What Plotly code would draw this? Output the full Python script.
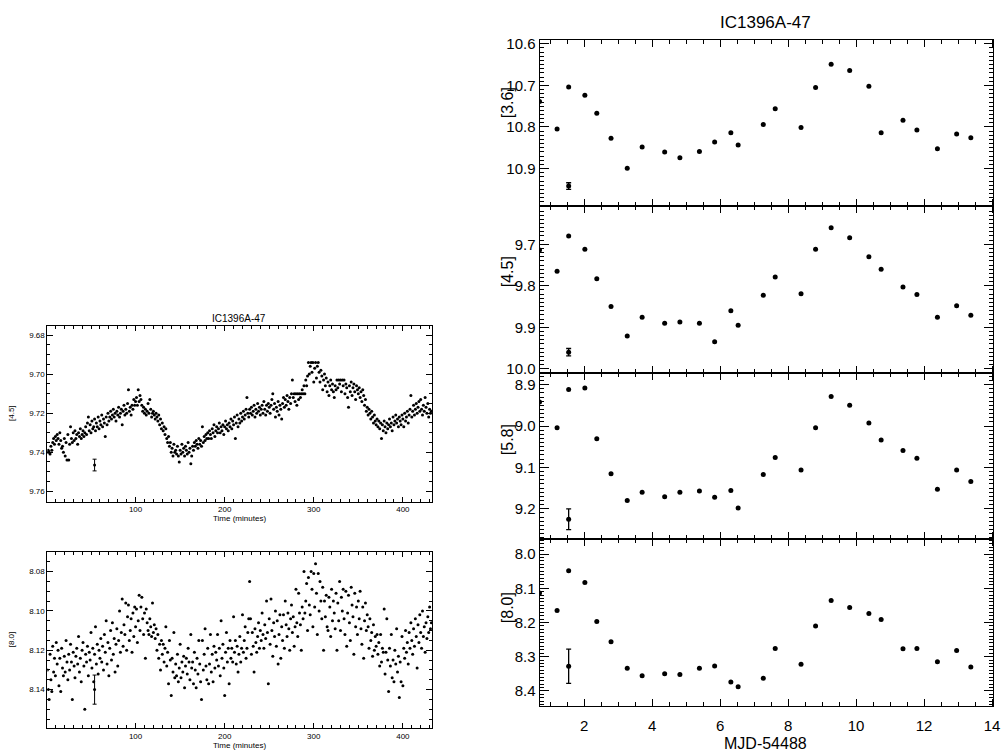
import plotly.graph_objects as go

# ---------------- right-hand panels: nightly light curves ----------------
mjd = [0.685, 1.201, 1.542, 2.019, 2.370, 2.789, 3.266, 3.704, 4.367, 4.815, 5.390,
       5.838, 6.315, 6.529, 7.269, 7.620, 8.380, 8.808, 9.266, 9.811, 10.376,
       10.737, 11.380, 11.789, 12.393, 12.958, 13.376]
mag36 = [10.739, 10.805, 10.704, 10.724, 10.767, 10.827, 10.899, 10.848, 10.860, 10.874,
         10.859, 10.836, 10.814, 10.843, 10.794, 10.756, 10.801, 10.705, 10.649, 10.664,
         10.702, 10.814, 10.784, 10.807, 10.852, 10.817, 10.826]
mag45 = [9.714, 9.765, 9.680, 9.712, 9.783, 9.850, 9.921, 9.876, 9.890, 9.887,
         9.890, 9.935, 9.860, 9.895, 9.823, 9.779, 9.819, 9.712, 9.660, 9.684,
         9.730, 9.760, 9.803, 9.821, 9.876, 9.848, 9.871]
mag58 = [8.942, 9.004, 8.912, 8.908, 9.031, 9.115, 9.180, 9.160, 9.171, 9.160,
         9.157, 9.172, 9.156, 9.198, 9.117, 9.076, 9.106, 9.004, 8.929, 8.950,
         8.993, 9.034, 9.059, 9.078, 9.153, 9.106, 9.134]
mag80 = [8.114, 8.165, 8.049, 8.083, 8.197, 8.256, 8.334, 8.356, 8.350, 8.352,
         8.334, 8.327, 8.374, 8.388, 8.363, 8.276, 8.322, 8.210, 8.136, 8.156,
         8.174, 8.191, 8.277, 8.276, 8.315, 8.282, 8.330]
# typical error bars (x, y, err)
err_x = [1.542, 1.542, 1.542, 1.542]
err_y = [10.942, 9.960, 9.225, 8.328]
err_e = [0.008, 0.009, 0.025, 0.050]
right_labels = ["[3.6]", "[4.5]", "[5.8]", "[8.0]"]

# ---------------- left-hand panels: staring-mode time series ----------------
time_min = list(range(1, 433))
ts45 = [
    9.740, 9.739, 9.740, 9.741, 9.737, 9.739, 9.735, 9.733, 9.736, 9.732, 9.734, 9.731,
    9.733, 9.736, 9.730, 9.734, 9.738, 9.737, 9.740, 9.733, 9.742, 9.735, 9.744, 9.731,
    9.744, 9.736, 9.727, 9.733, 9.735, 9.730, 9.734, 9.729, 9.733, 9.731, 9.736, 9.730,
    9.732, 9.728, 9.733, 9.731, 9.729, 9.732, 9.730, 9.727, 9.731, 9.725, 9.722, 9.729,
    9.726, 9.730, 9.724, 9.728, 9.727, 9.723, 9.729, 9.725, 9.727, 9.722, 9.728, 9.724,
    9.726, 9.721, 9.727, 9.723, 9.725, 9.732, 9.722, 9.726, 9.720, 9.724, 9.722, 9.719,
    9.723, 9.721, 9.718, 9.722, 9.720, 9.724, 9.719, 9.721, 9.717, 9.722, 9.720, 9.718,
    9.726, 9.719, 9.716, 9.721, 9.718, 9.720, 9.715, 9.708, 9.719, 9.717, 9.721, 9.716,
    9.718, 9.713, 9.716, 9.714, 9.712, 9.716, 9.708, 9.714, 9.711, 9.713, 9.716, 9.719,
    9.717, 9.720, 9.718, 9.721, 9.719, 9.715, 9.720, 9.713, 9.718, 9.722, 9.720, 9.719,
    9.721, 9.723, 9.720, 9.722, 9.724, 9.721, 9.726, 9.723, 9.728, 9.725, 9.729, 9.727,
    9.731, 9.728, 9.733, 9.735, 9.732, 9.737, 9.735, 9.740, 9.738, 9.742, 9.736, 9.740,
    9.739, 9.741, 9.737, 9.742, 9.745, 9.739, 9.741, 9.736, 9.740, 9.738, 9.742, 9.737,
    9.739, 9.741, 9.735, 9.740, 9.738, 9.746, 9.742, 9.737, 9.739, 9.735, 9.737, 9.734,
    9.736, 9.738, 9.733, 9.736, 9.734, 9.737, 9.727, 9.735, 9.732, 9.734, 9.731, 9.733,
    9.730, 9.733, 9.729, 9.731, 9.733, 9.728, 9.730, 9.726, 9.732, 9.729, 9.727, 9.730,
    9.728, 9.725, 9.730, 9.727, 9.729, 9.726, 9.731, 9.727, 9.724, 9.728, 9.726, 9.729,
    9.725, 9.727, 9.723, 9.728, 9.724, 9.726, 9.722, 9.733, 9.725, 9.721, 9.727, 9.723,
    9.725, 9.720, 9.724, 9.722, 9.719, 9.723, 9.721, 9.718, 9.712, 9.720, 9.722, 9.718,
    9.720, 9.717, 9.721, 9.719, 9.716, 9.722, 9.718, 9.720, 9.715, 9.719, 9.717, 9.721,
    9.718, 9.716, 9.720, 9.714, 9.718, 9.721, 9.716, 9.719, 9.715, 9.717, 9.720, 9.716,
    9.713, 9.710, 9.718, 9.715, 9.722, 9.717, 9.719, 9.714, 9.721, 9.716, 9.718, 9.723,
    9.715, 9.712, 9.717, 9.713, 9.716, 9.711, 9.714, 9.718, 9.712, 9.715, 9.710, 9.703,
    9.712, 9.710, 9.714, 9.710, 9.716, 9.710, 9.713, 9.710, 9.712, 9.710, 9.708, 9.710,
    9.706, 9.710, 9.703, 9.706, 9.701, 9.694, 9.700, 9.696, 9.694, 9.699, 9.694, 9.704,
    9.697, 9.694, 9.702, 9.696, 9.694, 9.699, 9.704, 9.698, 9.701, 9.708, 9.703, 9.700,
    9.706, 9.702, 9.709, 9.704, 9.711, 9.706, 9.703, 9.708, 9.705, 9.709, 9.712, 9.706,
    9.708, 9.703, 9.707, 9.703, 9.705, 9.703, 9.709, 9.703, 9.706, 9.703, 9.710, 9.705,
    9.707, 9.712, 9.717, 9.706, 9.709, 9.704, 9.711, 9.707, 9.705, 9.709, 9.713, 9.706,
    9.708, 9.710, 9.707, 9.712, 9.709, 9.714, 9.708, 9.711, 9.716, 9.713, 9.719, 9.717,
    9.721, 9.718, 9.720, 9.723, 9.719, 9.722, 9.725, 9.721, 9.724, 9.726, 9.723, 9.727,
    9.724, 9.728, 9.725, 9.733, 9.726, 9.729, 9.724, 9.727, 9.730, 9.725, 9.728, 9.726,
    9.723, 9.727, 9.725, 9.729, 9.722, 9.726, 9.724, 9.721, 9.725, 9.723, 9.727, 9.722,
    9.724, 9.726, 9.721, 9.723, 9.727, 9.720, 9.724, 9.722, 9.719, 9.725, 9.721, 9.718,
    9.711, 9.722, 9.719, 9.716, 9.721, 9.718, 9.715, 9.720, 9.717, 9.714, 9.719, 9.713,
    9.718, 9.721, 9.716, 9.719, 9.712, 9.717, 9.720, 9.715, 9.722, 9.718, 9.720, 9.719,
]
ts80 = [
    8.130, 8.140, 8.145, 8.122, 8.135, 8.141, 8.118, 8.131, 8.124, 8.133, 8.116, 8.127,
    8.120, 8.138, 8.124, 8.141, 8.119, 8.129, 8.133, 8.123, 8.131, 8.115, 8.126, 8.135,
    8.122, 8.130, 8.117, 8.126, 8.145, 8.121, 8.128, 8.134, 8.123, 8.119, 8.127, 8.113,
    8.131, 8.124, 8.136, 8.120, 8.116, 8.128, 8.150, 8.122, 8.126, 8.118, 8.133, 8.121,
    8.125, 8.111, 8.129, 8.119, 8.136, 8.122, 8.108, 8.127, 8.117, 8.132, 8.120, 8.124,
    8.114, 8.126, 8.118, 8.130, 8.112, 8.121, 8.105, 8.127, 8.116, 8.133, 8.119, 8.110,
    8.125, 8.106, 8.122, 8.114, 8.131, 8.117, 8.109, 8.128, 8.115, 8.100, 8.121, 8.111,
    8.094, 8.118, 8.107, 8.112, 8.096, 8.120, 8.103, 8.097, 8.115, 8.110, 8.104, 8.121,
    8.101, 8.113, 8.098, 8.108, 8.099, 8.116, 8.105, 8.092, 8.110, 8.098, 8.093, 8.104,
    8.112, 8.101, 8.124, 8.099, 8.106, 8.110, 8.112, 8.104, 8.108, 8.113, 8.096, 8.111,
    8.107, 8.114, 8.109, 8.120, 8.112, 8.124, 8.117, 8.130, 8.115, 8.122, 8.117, 8.126,
    8.119, 8.108, 8.128, 8.121, 8.137, 8.115, 8.125, 8.143, 8.124, 8.131, 8.111, 8.134,
    8.127, 8.133, 8.122, 8.136, 8.129, 8.117, 8.134, 8.126, 8.131, 8.123, 8.139, 8.128,
    8.124, 8.132, 8.119, 8.126, 8.135, 8.112, 8.129, 8.126, 8.137, 8.121, 8.130, 8.139,
    8.124, 8.132, 8.115, 8.127, 8.136, 8.145, 8.115, 8.130, 8.122, 8.109, 8.128, 8.135,
    8.119, 8.137, 8.127, 8.112, 8.131, 8.122, 8.136, 8.118, 8.129, 8.121, 8.125, 8.112,
    8.128, 8.119, 8.133, 8.105, 8.124, 8.117, 8.129, 8.143, 8.121, 8.111, 8.126, 8.119,
    8.137, 8.115, 8.124, 8.119, 8.126, 8.103, 8.121, 8.115, 8.127, 8.118, 8.131, 8.122,
    8.113, 8.126, 8.119, 8.102, 8.121, 8.115, 8.108, 8.124, 8.119, 8.111, 8.104, 8.085,
    8.104, 8.122, 8.111, 8.118, 8.131, 8.109, 8.116, 8.121, 8.113, 8.106, 8.119, 8.110,
    8.115, 8.101, 8.112, 8.119, 8.107, 8.114, 8.095, 8.111, 8.137, 8.104, 8.117, 8.094,
    8.110, 8.123, 8.106, 8.113, 8.100, 8.118, 8.105, 8.127, 8.112, 8.102, 8.124, 8.108,
    8.115, 8.102, 8.119, 8.095, 8.107, 8.113, 8.101, 8.109, 8.120, 8.104, 8.097, 8.111,
    8.103, 8.118, 8.108, 8.089, 8.106, 8.113, 8.091, 8.101, 8.107, 8.120, 8.098, 8.104,
    8.080, 8.101, 8.095, 8.086, 8.110, 8.083, 8.097, 8.102, 8.080, 8.089, 8.108, 8.081,
    8.098, 8.076, 8.091, 8.112, 8.081, 8.100, 8.085, 8.095, 8.104, 8.088, 8.120, 8.095,
    8.103, 8.092, 8.108, 8.110, 8.093, 8.098, 8.113, 8.089, 8.105, 8.095, 8.101, 8.109,
    8.091, 8.120, 8.096, 8.105, 8.085, 8.110, 8.093, 8.100, 8.089, 8.104, 8.112, 8.090,
    8.118, 8.101, 8.092, 8.106, 8.115, 8.088, 8.097, 8.103, 8.122, 8.091, 8.108, 8.098,
    8.112, 8.095, 8.104, 8.090, 8.109, 8.117, 8.098, 8.124, 8.105, 8.096, 8.110, 8.102,
    8.108, 8.119, 8.104, 8.115, 8.111, 8.123, 8.107, 8.120, 8.113, 8.118, 8.112, 8.122,
    8.116, 8.128, 8.112, 8.126, 8.119, 8.121, 8.099, 8.132, 8.121, 8.104, 8.125, 8.141,
    8.119, 8.128, 8.112, 8.134, 8.125, 8.136, 8.120, 8.127, 8.109, 8.131, 8.123, 8.144,
    8.126, 8.136, 8.113, 8.138, 8.119, 8.124, 8.110, 8.121, 8.116, 8.127, 8.111, 8.119,
    8.106, 8.115, 8.122, 8.109, 8.118, 8.104, 8.113, 8.129, 8.107, 8.116, 8.102, 8.111,
    8.119, 8.100, 8.113, 8.108, 8.121, 8.106, 8.114, 8.103, 8.111, 8.098, 8.109, 8.106,
]
left_err_t = [54, 54]
left_err_y = [9.7466, 8.140]
left_err_e = [0.003, 0.0074]
left_labels = ["[4.5]", "[8.0]"]
title = "IC1396A-47"

FONT = "Liberation Sans, Arial, Helvetica, sans-serif"
W, H = 1008, 756

fig = go.Figure()


def xd(a, b):
    return [a / W, b / W]


def yd(top, bot):
    return [1 - bot / H, 1 - top / H]


right_x = xd(543.3, 1000.0)
right_y = [yd(35, 203.5), yd(203.5, 372), yd(372, 540.5), yd(540.5, 709)]
right_ranges = [[10.99, 10.59], [10.009, 9.608], [9.273, 8.871], [8.443, 7.956]]
right_series = [mag36, mag45, mag58, mag80]

left_x = xd(47.7, 435.3)
left_y = [yd(325, 502.7), yd(553.3, 731.7)]
left_ranges = [[9.7654, 9.6754], [8.1595, 8.0699]]
left_series = [ts45, ts80]

axcommon = dict(showline=True, linecolor="black", linewidth=1, mirror="allticks",
                ticks="inside", showgrid=False, zeroline=False, tickcolor="black")

layout = dict(width=W, height=H, margin=dict(l=0, r=0, t=0, b=0),
              paper_bgcolor="white", plot_bgcolor="white", showlegend=False,
              font=dict(family=FONT, color="black"))

for i in range(4):
    n = i + 1
    xa = "xaxis" if n == 1 else f"xaxis{n}"
    ya = "yaxis" if n == 1 else f"yaxis{n}"
    xr = "x" if n == 1 else f"x{n}"
    yr = "y" if n == 1 else f"y{n}"
    layout[xa] = dict(axcommon, domain=right_x, anchor=yr, range=[0.685, 14.03],
                      dtick=2, tick0=0, ticklen=7, tickwidth=1,
                      minor=dict(ticks="inside", dtick=0.5, tick0=0, ticklen=4,
                                 tickwidth=1, tickcolor="black"),
                      showticklabels=(n == 4), ticklabelstandoff=6,
                      tickfont=dict(size=15, family=FONT))
    layout[ya] = dict(axcommon, domain=right_y[i], anchor=xr, range=right_ranges[i],
                      dtick=0.1, tick0=0, ticklen=9, tickwidth=1, tickformat=".1f",
                      minor=dict(ticks="inside", dtick=0.01, tick0=0, ticklen=4,
                                 tickwidth=1, tickcolor="black"),
                      tickfont=dict(size=15, family=FONT))
    fig.add_trace(go.Scatter(x=mjd, y=right_series[i], mode="markers", xaxis=xr, yaxis=yr,
                             marker=dict(color="black", size=5), cliponaxis=True))
    fig.add_trace(go.Scatter(x=[err_x[i]], y=[err_y[i]], mode="markers", xaxis=xr, yaxis=yr,
                             marker=dict(color="black", size=5),
                             error_y=dict(type="data", array=[err_e[i]], color="black",
                                          thickness=1.3, width=2.5)))

for j in range(2):
    n = 5 + j
    xr, yr = f"x{n}", f"y{n}"
    layout[f"xaxis{n}"] = dict(axcommon, domain=left_x, anchor=yr, range=[1, 433],
                               dtick=100, tick0=0, ticklen=5, tickwidth=1,
                               minor=dict(ticks="inside", dtick=10, tick0=0, ticklen=3,
                                          tickwidth=1, tickcolor="black"),
                               tickfont=dict(size=8, family=FONT))
    layout[f"yaxis{n}"] = dict(axcommon, domain=left_y[j], anchor=xr, range=left_ranges[j],
                               dtick=0.02, tick0=0, ticklen=6, tickwidth=1, tickformat=".2f",
                               minor=dict(ticks="inside", dtick=0.005, tick0=0, ticklen=3,
                                          tickwidth=1, tickcolor="black"),
                               tickfont=dict(size=8, family=FONT))
    fig.add_trace(go.Scatter(x=time_min, y=left_series[j], mode="markers", xaxis=xr, yaxis=yr,
                             marker=dict(color="black", size=3)))
    fig.add_trace(go.Scatter(x=[left_err_t[j]], y=[left_err_y[j]], mode="markers", xaxis=xr, yaxis=yr,
                             marker=dict(color="black", size=3),
                             error_y=dict(type="data", array=[left_err_e[j]], color="black",
                                          thickness=1, width=2)))

ann = []
ann.append(dict(text=title, x=771 / W, y=1 - 18 / H, xref="paper", yref="paper",
                showarrow=False, font=dict(size=17, family=FONT), xanchor="center", yanchor="middle"))
ann.append(dict(text="MJD-54488", x=771 / W, y=1 - 747 / H, xref="paper", yref="paper",
                showarrow=False, font=dict(size=16, family=FONT), xanchor="center", yanchor="middle"))
centers = [99, 270, 440, 610]
for lab, cy in zip(right_labels, centers):
    ann.append(dict(text=lab, x=511 / W, y=1 - cy / H, xref="paper", yref="paper", textangle=-90,
                    showarrow=False, font=dict(size=16, family=FONT), xanchor="center", yanchor="middle"))
ann.append(dict(text=title, x=241 / W, y=1 - 317 / H, xref="paper", yref="paper",
                showarrow=False, font=dict(size=10, family=FONT), xanchor="center", yanchor="middle"))
for yy in [520, 749]:
    ann.append(dict(text="Time (minutes)", x=241 / W, y=1 - yy / H, xref="paper", yref="paper",
                    showarrow=False, font=dict(size=8, family=FONT), xanchor="center", yanchor="middle"))
for lab, cy in zip(left_labels, [413, 642]):
    ann.append(dict(text=lab, x=11 / W, y=1 - cy / H, xref="paper", yref="paper", textangle=-90,
                    showarrow=False, font=dict(size=8, family=FONT), xanchor="center", yanchor="middle"))
layout["annotations"] = ann

fig.update_layout(**layout)
fig.write_html("out.html")
